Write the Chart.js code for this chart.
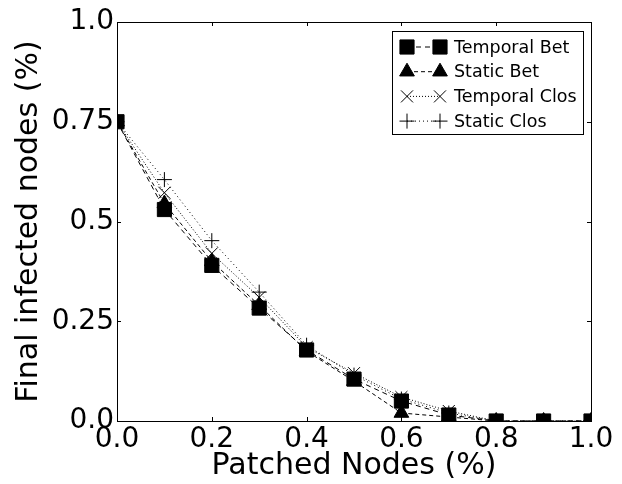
<!DOCTYPE html>
<html lang="en">
<head>
    <meta charset="UTF-8">
    <title>Final infected nodes vs patched nodes</title>
    <style>
        html, body {
            margin: 0;
            padding: 0;
            background: #fff;
        }
        #chart {
            display: block;
        }
    </style>
</head>
<body>
    <canvas id="chart" width="622" height="484"></canvas>

    <script src="https://cdn.jsdelivr.net/npm/chart.js"></script>
    <script>
        // Data
        const patched = [0.0, 0.1, 0.2, 0.3, 0.4, 0.5, 0.6, 0.7, 0.8, 0.9, 1.0];
        const temporalBet = [0.75, 0.53, 0.39, 0.283, 0.178, 0.105, 0.05, 0.015, 0.0, 0.0, 0.0];
        const staticBet = [0.75, 0.545, 0.40, 0.29, 0.175, 0.10, 0.02, 0.01, 0.0, 0.0, 0.0];
        const temporalClos = [0.75, 0.572, 0.42, 0.31, 0.185, 0.12, 0.06, 0.025, 0.0, 0.0, 0.0];
        const staticClos = [0.75, 0.605, 0.452, 0.323, 0.19, 0.115, 0.055, 0.02, 0.0, 0.0, 0.0];

        const seriesNames = ['Temporal Bet', 'Static Bet', 'Temporal Clos', 'Static Clos'];
        const xTicks = [0.0, 0.2, 0.4, 0.6, 0.8, 1.0];
        const yTicks = [0.0, 0.25, 0.5, 0.75, 1.0];
        const yTickLabels = ['0.0', '0.25', '0.5', '0.75', '1.0'];

        const FONT = "'DejaVu Sans', 'Liberation Sans', sans-serif";

        function toPoints(values) {
            return patched.map((x, i) => ({ x: x, y: values[i] }));
        }

        function series(label, values, style, radius, dash) {
            return {
                label: label,
                data: toPoints(values),
                borderColor: '#000',
                backgroundColor: '#000',
                borderWidth: 1,
                borderDash: dash,
                pointStyle: style,
                pointRadius: radius,
                pointHoverRadius: radius,
                pointBackgroundColor: '#000',
                pointBorderColor: '#000',
                pointBorderWidth: 1,
                fill: false,
                tension: 0,
                clip: 0
            };
        }

        // Frame, inward ticks and legend (matplotlib look)
        const frameAndLegend = {
            id: 'frameAndLegend',
            afterDatasetsDraw(chart) {
                const ctx = chart.ctx;
                const a = chart.chartArea;
                const xs = chart.scales.x;
                const ys = chart.scales.y;
                const tl = 4;

                ctx.save();
                ctx.strokeStyle = '#000';
                ctx.lineWidth = 1;
                ctx.setLineDash([]);
                ctx.strokeRect(Math.round(a.left) + 0.5, Math.round(a.top) + 0.5,
                    Math.round(a.right - a.left), Math.round(a.bottom - a.top));

                ctx.beginPath();
                xTicks.forEach(v => {
                    const px = Math.round(xs.getPixelForValue(v)) + 0.5;
                    ctx.moveTo(px, a.bottom); ctx.lineTo(px, a.bottom - tl);
                    ctx.moveTo(px, a.top); ctx.lineTo(px, a.top + tl);
                });
                yTicks.forEach(v => {
                    const py = Math.round(ys.getPixelForValue(v)) + 0.5;
                    ctx.moveTo(a.left, py); ctx.lineTo(a.left + tl, py);
                    ctx.moveTo(a.right, py); ctx.lineTo(a.right - tl, py);
                });
                ctx.stroke();

                // legend box
                const bw = 191, bh = 103;
                const bx = a.right - 8 - bw;
                const by = a.top + 9;
                ctx.fillStyle = '#fff';
                ctx.fillRect(bx, by, bw, bh);
                ctx.strokeRect(Math.round(bx) + 0.5, Math.round(by) + 0.5, bw, bh);

                ctx.font = '17.5px ' + FONT;
                ctx.textBaseline = 'middle';
                ctx.textAlign = 'left';
                chart.data.datasets.forEach((ds, i) => {
                    const y = by + 16 + i * 24.7;
                    const m1 = bx + 15;
                    const m2 = bx + 48;
                    ctx.strokeStyle = '#000';
                    ctx.fillStyle = '#000';
                    ctx.lineWidth = 1;
                    ctx.setLineDash(ds.borderDash || []);
                    ctx.beginPath();
                    ctx.moveTo(m1, y);
                    ctx.lineTo(m2, y);
                    ctx.stroke();
                    ctx.setLineDash([]);
                    const opts = { pointStyle: ds.pointStyle, radius: ds.pointRadius, borderWidth: 1, rotation: 0 };
                    Chart.helpers.drawPoint(ctx, opts, m1, y);
                    Chart.helpers.drawPoint(ctx, opts, m2, y);
                    ctx.fillStyle = '#000';
                    ctx.fillText(ds.label, bx + 62, y + 1);
                });
                ctx.restore();
            }
        };

        const config = {
            type: 'line',
            data: {
                datasets: [
                    series(seriesNames[0], temporalBet, 'rect', 10, [5, 4]),
                    series(seriesNames[1], staticBet, 'triangle', 8.5, [4, 3]),
                    series(seriesNames[2], temporalClos, 'crossRot', 8.5, [1, 2]),
                    series(seriesNames[3], staticClos, 'cross', 7.5, [1, 3])
                ]
            },
            options: {
                responsive: false,
                animation: false,
                devicePixelRatio: 1,
                layout: {
                    padding: { top: 22, right: 31, left: 0, bottom: 0 }
                },
                plugins: {
                    legend: { display: false },
                    tooltip: { enabled: false }
                },
                scales: {
                    x: {
                        type: 'linear',
                        min: 0,
                        max: 1,
                        afterBuildTicks: s => { s.ticks = xTicks.map(v => ({ value: v })); },
                        afterFit: s => { s.height = 63; },
                        grid: { display: false, drawTicks: false },
                        border: { display: false },
                        ticks: {
                            color: '#000',
                            padding: 2,
                            maxRotation: 0,
                            font: { family: FONT, size: 28 },
                            callback: v => Number(v).toFixed(1)
                        },
                        title: {
                            display: true,
                            text: 'Patched Nodes (%)',
                            color: '#000',
                            font: { family: FONT, size: 30 },
                            padding: { top: 0, bottom: 0 }
                        }
                    },
                    y: {
                        type: 'linear',
                        min: 0,
                        max: 1,
                        afterBuildTicks: s => { s.ticks = yTicks.map(v => ({ value: v })); },
                        afterFit: s => { s.width = 117; },
                        grid: { display: false, drawTicks: false },
                        border: { display: false },
                        ticks: {
                            color: '#000',
                            padding: 3,
                            font: { family: FONT, size: 28 },
                            callback: v => yTickLabels[yTicks.indexOf(v)] ?? String(v)
                        },
                        title: {
                            display: true,
                            text: 'Final infected nodes (%)',
                            color: '#000',
                            font: { family: FONT, size: 30 },
                            padding: { top: 11, bottom: 0 }
                        }
                    }
                }
            },
            plugins: [frameAndLegend]
        };

        new Chart(document.getElementById('chart'), config);
    </script>
</body>
</html>
